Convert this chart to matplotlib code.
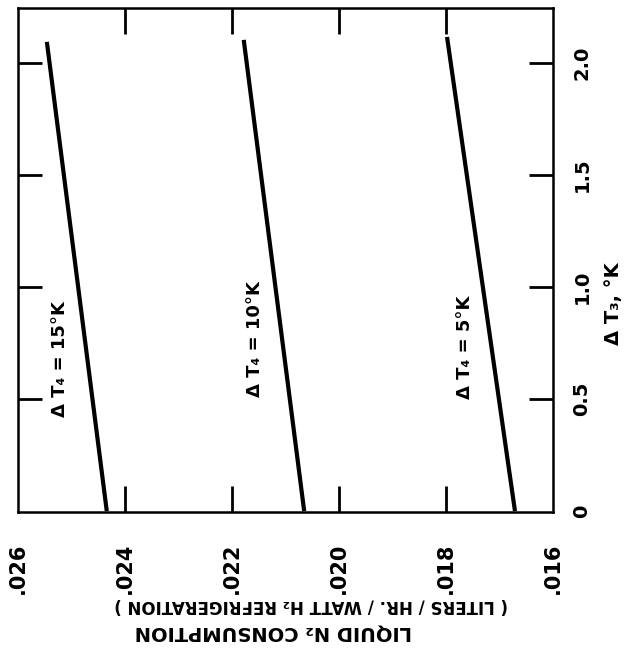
import matplotlib
matplotlib.use("Agg")
import matplotlib.pyplot as plt

plt.rcParams['font.family'] = ['DejaVu Sans']
plt.rcParams['font.weight'] = 'bold'

# LN2 consumption at the two ends of each curve (liters/hr/watt H2 refrigeration)
dt3_start = [0.0, 0.0, 0.0]
dt3_end = [2.094, 2.103, 2.116]
cons_start = [0.02434, 0.02065, 0.01671]
cons_end = [0.02546, 0.02178, 0.01798]
curve_labels = ['Δ T₄ = 15°K', 'Δ T₄ = 10°K', 'Δ T₄ = 5°K']
label_dt3 = [0.68, 0.77, 0.73]
label_cons = [0.02521, 0.02157, 0.01764]

cons_ticks = [0.026, 0.024, 0.022, 0.020, 0.018, 0.016]
cons_ticklabels = ['.026', '.024', '.022', '.020', '.018', '.016']
dt3_ticks = [0, 0.5, 1.0, 1.5, 2.0]
dt3_ticklabels = ['0', '0.5', '1.0', '1.5', '2.0']

fig = plt.figure(figsize=(6.35, 6.54), dpi=100)
ax = fig.add_axes([0.0283, 0.2171, 0.8425, 0.7706])

for x0, x1, y0, y1 in zip(cons_start, cons_end, dt3_start, dt3_end):
    ax.plot([x0, x1], [y0, y1], color='black', lw=3.0, solid_capstyle='butt')

for txt, x, y in zip(curve_labels, label_cons, label_dt3):
    ax.text(x, y, txt, rotation=90, ha='center', va='center',
            fontsize=13, fontweight='bold')

ax.set_xlim(0.026, 0.016)
ax.set_ylim(-0.004, 2.245)

ax.set_xticks(cons_ticks)
ax.set_xticklabels(cons_ticklabels, rotation=90, fontsize=15, fontweight='bold')
ax.set_yticks(dt3_ticks)
ax.set_yticklabels(dt3_ticklabels, rotation=90, va='center', fontsize=14,
                   fontweight='bold')
ax.yaxis.tick_right()

ax.tick_params(axis='x', direction='in', length=19, width=2.0, pad=22,
               top=True, bottom=True)
ax.tick_params(axis='y', direction='in', length=17, width=2.0, pad=14,
               left=True, right=True)

# no tick marks at the corners, only the labels
xt = ax.xaxis.get_major_ticks()
for t in (xt[0], xt[-1]):
    t.tick1line.set_visible(False)
    t.tick2line.set_visible(False)
yt = ax.yaxis.get_major_ticks()
yt[0].tick1line.set_visible(False)
yt[0].tick2line.set_visible(False)

for sp in ax.spines.values():
    sp.set_linewidth(1.8)

fig.text(0.966, 0.535, 'Δ T₃, °K', rotation=90, ha='center', va='center',
         fontsize=14, fontweight='bold')
fig.text(0.49, 0.075, '( LITERS / HR. / WATT H₂ REFRIGERATION )', rotation=180,
         ha='center', va='center', fontsize=12, fontweight='bold')
fig.text(0.43, 0.033, 'LIQUID N₂ CONSUMPTION', rotation=180,
         ha='center', va='center', fontsize=14, fontweight='bold')

fig.savefig('out.png', dpi=100)
